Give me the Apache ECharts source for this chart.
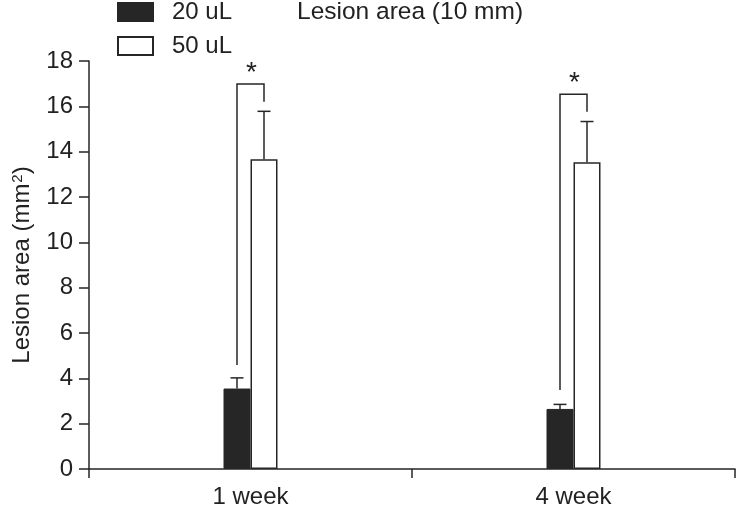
<!DOCTYPE html>
<html><head><meta charset="utf-8">
<script src="https://cdn.jsdelivr.net/npm/echarts@6/dist/echarts.min.js"></script>
<style>html,body{margin:0;padding:0;background:#fff}#c{width:736px;height:509px}</style>
</head><body><div id="c"></div>
<script>
const categories = ['1 week', '4 week'];
const seriesNames = ['20 uL', '50 uL'];
const values20 = [3.55, 2.65];
const values50 = [13.67, 13.53];
const err20 = [0.47, 0.2];
const err50 = [2.11, 1.8];
// significance brackets: top level, left leg bottom, right leg bottom
const bracketTop = [16.98, 16.53];
const bracketLeftEnd = [4.59, 3.48];
const bracketRightEnd = [16.2, 15.76];
const sigMarks = ['*', '*'];
const yTicks = [0, 18, 2];

const FONT = 'Liberation Sans, Arial, sans-serif';
const INK = '#262626';
const BAR_W = 27;
const FS = 24;

const chart = echarts.init(document.getElementById('c'), null, {renderer: 'canvas'});

const errData = [];
categories.forEach((c, i) => {
  errData.push([i, values20[i], err20[i], -1]);
  errData.push([i, values50[i], err50[i], 1]);
});
const brData = categories.map((c, i) => [i, bracketTop[i], bracketLeftEnd[i], bracketRightEnd[i]]);

chart.setOption({
  animation: false,
  textStyle: {fontFamily: FONT},
  title: {
    text: 'Lesion area (10 mm)', left: 297, top: 0, padding: 0,
    textStyle: {fontFamily: FONT, fontSize: 24.5, fontWeight: 'normal', color: '#222', lineHeight: 24}
  },
  legend: {
    data: seriesNames, orient: 'vertical', left: 117, top: 0, padding: 0,
    itemWidth: 35, itemHeight: 18, itemGap: 10, icon: 'rect',
    textStyle: {fontFamily: FONT, fontSize: FS, color: '#222', lineHeight: 18, padding: [2, 0, 0, 14]}
  },
  grid: {left: 89, right: 1, top: 61, bottom: 37, containLabel: false},
  xAxis: {
    type: 'category', data: categories, boundaryGap: true,
    axisLine: {lineStyle: {color: INK, width: 1.5}},
    axisTick: {show: true, length: 9, inside: false, alignWithLabel: false, lineStyle: {color: INK, width: 1.5}},
    axisLabel: {fontFamily: FONT, fontSize: FS, color: '#222', margin: 16}
  },
  yAxis: {
    type: 'value', min: yTicks[0], max: yTicks[1], interval: yTicks[2],
    name: '{a|Lesion area (mm}{s|2}{a|)}', nameLocation: 'middle', nameGap: 55,
    nameTextStyle: {
      fontFamily: FONT, fontSize: FS, color: '#222',
      rich: {
        a: {fontFamily: FONT, fontSize: FS, color: '#222'},
        s: {fontFamily: FONT, fontSize: 15, color: '#222', verticalAlign: 'top', padding: [0, 0, 0, 1]}
      }
    },
    splitLine: {show: false},
    axisLine: {show: true, lineStyle: {color: INK, width: 1.5}},
    axisTick: {show: true, length: 10, lineStyle: {color: INK, width: 1.5}},
    axisLabel: {fontFamily: FONT, fontSize: FS, color: '#222', margin: 16}
  },
  series: [
    {
      name: seriesNames[0], type: 'bar', data: values20, barWidth: BAR_W, barGap: '0%',
      itemStyle: {color: INK, borderColor: INK, borderWidth: 1}
    },
    {
      name: seriesNames[1], type: 'bar', data: values50, barWidth: BAR_W, barGap: '0%',
      itemStyle: {color: '#fff', borderColor: INK, borderWidth: 1.5}
    },
    {
      type: 'custom', data: errData, z: 5, silent: true,
      renderItem: function (params, api) {
        const cat = api.value(0), v = api.value(1), e = api.value(2), side = api.value(3);
        const base = api.coord([cat, v]);
        const top = api.coord([cat, v + e]);
        const x = base[0] + side * BAR_W / 2;
        const st = {stroke: INK, lineWidth: 1.5};
        return {type: 'group', children: [
          {type: 'line', shape: {x1: x, y1: base[1], x2: x, y2: top[1]}, style: st},
          {type: 'line', shape: {x1: x - 6.5, y1: top[1], x2: x + 6.5, y2: top[1]}, style: st}
        ]};
      }
    },
    {
      type: 'custom', data: brData, z: 5, silent: true,
      renderItem: function (params, api) {
        const cat = api.value(0);
        const t = api.coord([cat, api.value(1)]);
        const l = api.coord([cat, api.value(2)]);
        const r = api.coord([cat, api.value(3)]);
        const xl = t[0] - BAR_W / 2, xr = t[0] + BAR_W / 2;
        const st = {stroke: INK, lineWidth: 1.5, fill: null};
        return {type: 'group', children: [
          {type: 'polyline', shape: {points: [[xl, l[1]], [xl, t[1]], [xr, t[1]], [xr, r[1]]]}, style: st},
          {type: 'text', x: t[0] + 1, y: t[1] + 3, style: {text: sigMarks[params.dataIndex], fontFamily: FONT, fontSize: 28, fill: '#222', align: 'center', verticalAlign: 'bottom'}}
        ]};
      }
    }
  ]
});
</script></body></html>
